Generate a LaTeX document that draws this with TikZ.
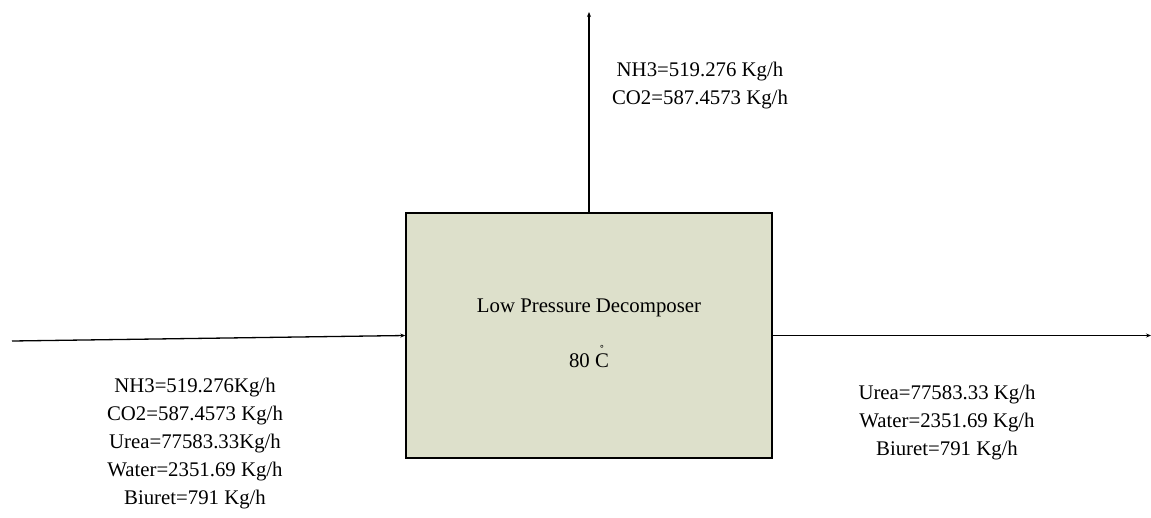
\documentclass[tikz,border=0pt]{standalone}
\usepackage{fontspec}
\setmainfont{Liberation Serif}
\usetikzlibrary{arrows.meta}
\definecolor{boxfill}{RGB}{221,224,203}
\newcommand{\ringC}{\leavevmode\ooalign{C\cr\hidewidth\raisebox{0.6em}{\fontsize{14}{14}\selectfont\char"02DA}\hidewidth\cr}}
\begin{document}
\begin{tikzpicture}[x=1pt,y=-1pt,
  flow/.style={line width=1.3pt,-{Stealth[length=5pt,width=4pt]}},
  lbl/.style={align=center,inner sep=0pt,font=\fontsize{20.8}{28}\selectfont},
  unit/.style={draw=black,line width=1.4pt,fill=boxfill,minimum width=366pt,minimum height=245pt,inner sep=0pt}]
\useasboundingbox (0,0) rectangle (1151,517);
\node[unit] (lpd) at (589,335.5) {};
\node[lbl] (name) at (589,308) {Low Pressure Decomposer};
\node[lbl] (temp) at (589,361) {80 \ringC};
\coordinate (top) at (589,12);
\coordinate (in) at (12,341);
\coordinate (out) at (1151,335.5);
\draw[flow] (lpd.north) -- (top);
\draw[flow] (in) -- (lpd.west);
\draw[flow] (lpd.east) -- (out);
\node[lbl] (toplbl) at (700,86) {NH3=519.276 Kg/h\\CO2=587.4573 Kg/h};
\node[lbl] (inlbl) at (195,444) {NH3=519.276Kg/h\\CO2=587.4573 Kg/h\\Urea=77583.33Kg/h\\Water=2351.69 Kg/h\\Biuret=791 Kg/h};
\node[lbl] (outlbl) at (947,423) {Urea=77583.33 Kg/h\\Water=2351.69 Kg/h\\Biuret=791 Kg/h};
\end{tikzpicture}
\end{document}
